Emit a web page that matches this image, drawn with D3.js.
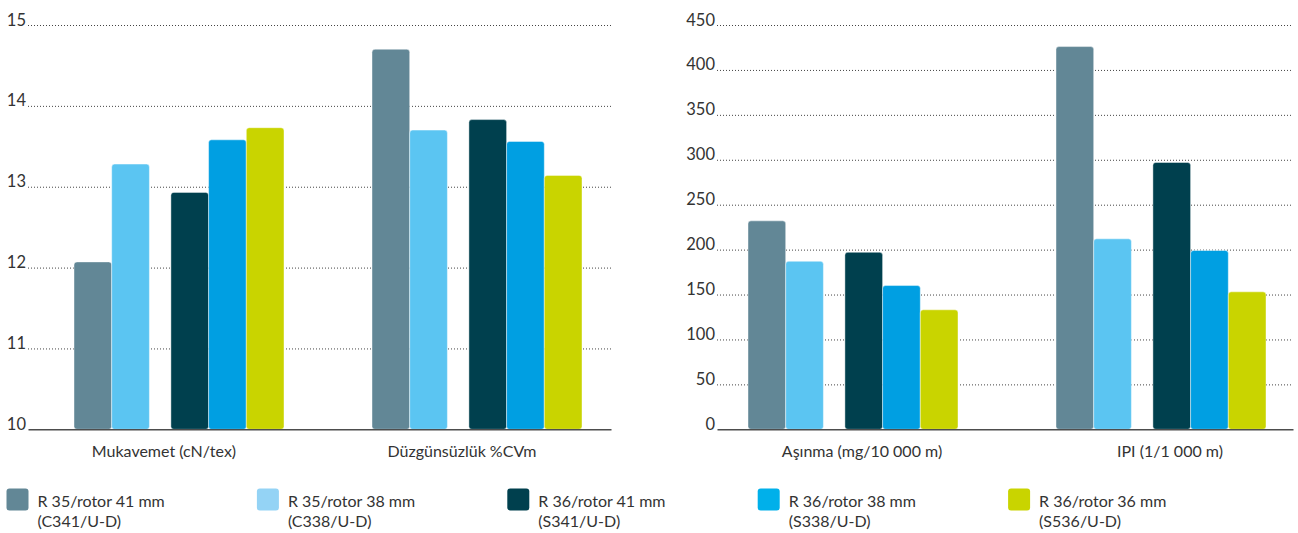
<!DOCTYPE html>
<html>
<head>
<meta charset="utf-8">
<script src="https://cdn.jsdelivr.net/npm/d3@7/dist/d3.min.js"></script>
<style>
  body { margin: 0; background: #fff; }
  svg text { font-family: Lato, "Open Sans", sans-serif; fill: #333; }
</style>
</head>
<body>
<svg id="chart" width="1298" height="533"></svg>
<script>
// ---- data ----
const seriesNames = ["R 35/rotor 41 mm", "R 35/rotor 38 mm", "R 36/rotor 41 mm", "R 36/rotor 38 mm", "R 36/rotor 36 mm"];
const seriesCodes = ["(C341/U-D)", "(C338/U-D)", "(S341/U-D)", "(S338/U-D)", "(S536/U-D)"];

const yarnCategories = ["Mukavemet (cN/tex)", "Düzgünsüzlük %CVm"];
const mukavemet    = [12.07, 13.28, 12.93, 13.58, 13.73];
const duzgunsuzluk = [14.70, 13.70, 13.83, 13.56, 13.14];
const yarnTicks = [10, 11, 12, 13, 14, 15];

const wearCategories = ["Aşınma (mg/10 000 m)", "IPI (1/1 000 m)"];
const asinma = [232, 187, 197, 160, 133];
const ipi    = [426, 212, 297, 199, 153];
const wearTicks = [0, 50, 100, 150, 200, 250, 300, 350, 400, 450];

// ---- styles ----
const barColors    = ["#628796", "#5bc5f2", "#00404e", "#009fe2", "#c9d400"];
const legendColors = ["#628796", "#94d3f5", "#00404e", "#00b0ea", "#c9d400"];

const svg = d3.select("#chart");
const baseY = 429.3, topY = 25;
const barW = 37.7;

function drawPanel(cfg) {
  const g = svg.append("g");
  const y = d3.scaleLinear().domain([cfg.ticks[0], cfg.ticks[cfg.ticks.length - 1]]).range([baseY, topY]);
  const plotW = cfg.plotX[1] - cfg.plotX[0];

  // dotted grid + tick labels
  const yAxis = d3.axisLeft(y).tickValues(cfg.ticks).tickFormat(d3.format("d"))
    .tickSize(-plotW).tickPadding(2).tickSizeOuter(0);
  const ga = g.append("g").attr("transform", `translate(${cfg.plotX[0]},0)`).call(yAxis);
  ga.select(".domain").remove();
  ga.selectAll(".tick line")
    .attr("stroke", "#444").attr("stroke-width", 1).attr("stroke-dasharray", "1,2")
    .filter(d => d === cfg.ticks[0]).remove();
  ga.selectAll(".tick text")
    .attr("dy", "0").attr("font-size", 16.5).attr("fill", "#333")
    .style("font-family", "Lato, 'Open Sans', sans-serif");

  // groups and bars
  const x0 = d3.scaleBand().domain(cfg.categories).range(cfg.groupRange).paddingInner(cfg.padInner);
  const x1 = d3.scaleBand().domain(d3.range(seriesNames.length)).range([0, barW * seriesNames.length]);
  const gap = x0.bandwidth() - barW * seriesNames.length;

  cfg.categories.forEach((cat, ci) => {
    const vals = cfg.values[ci];
    g.append("g").selectAll("rect").data(vals).join("rect")
      .attr("x", (d, i) => x0(cat) + x1(i) + (i >= 2 ? gap : 0))
      .attr("y", d => y(d))
      .attr("width", x1.bandwidth())
      .attr("height", d => y(cfg.ticks[0]) - y(d))
      .attr("rx", 3)
      .attr("fill", (d, i) => barColors[i])
      .attr("stroke", "#ffffff").attr("stroke-opacity", 0.55).attr("stroke-width", 0.8);

    g.append("text")
      .attr("x", x0(cat) + x0.bandwidth() / 2 + cfg.labelShift)
      .attr("y", 457)
      .attr("text-anchor", "middle")
      .attr("font-size", 16)
      .text(cat);
  });

  // solid baseline
  const xLine = d3.scaleLinear().domain([0, 1]).range(cfg.plotX);
  const base = g.append("g").attr("transform", `translate(0,${baseY})`)
    .call(d3.axisBottom(xLine).tickValues([]).tickSizeOuter(0));
  base.select(".domain").attr("stroke", "#4d4d4d").attr("stroke-width", 1.6);
}

drawPanel({
  categories: yarnCategories,
  values: [mukavemet, duzgunsuzluk],
  ticks: yarnTicks,
  plotX: [28, 611],
  groupRange: [74, 74 + 298 + 210],
  padInner: 88 / 298,
  labelShift: -15
});

drawPanel({
  categories: wearCategories,
  values: [asinma, ipi],
  ticks: wearTicks,
  plotX: [717, 1293],
  groupRange: [748, 748 + 308 + 210],
  padInner: 98 / 308,
  labelShift: 9
});

// legend
const legend = svg.append("g").selectAll("g").data(seriesNames).join("g")
  .attr("transform", (d, i) => `translate(${6.5 + i * 250.4},488.5)`);
legend.append("rect")
  .attr("width", 22).attr("height", 22).attr("rx", 3)
  .attr("fill", (d, i) => legendColors[i]);
legend.append("text")
  .attr("x", 31).attr("y", 18.5).attr("font-size", 16)
  .text(d => d);
legend.append("text")
  .attr("x", 31).attr("y", 38.5).attr("font-size", 16)
  .text((d, i) => seriesCodes[i]);
</script>
</body>
</html>
